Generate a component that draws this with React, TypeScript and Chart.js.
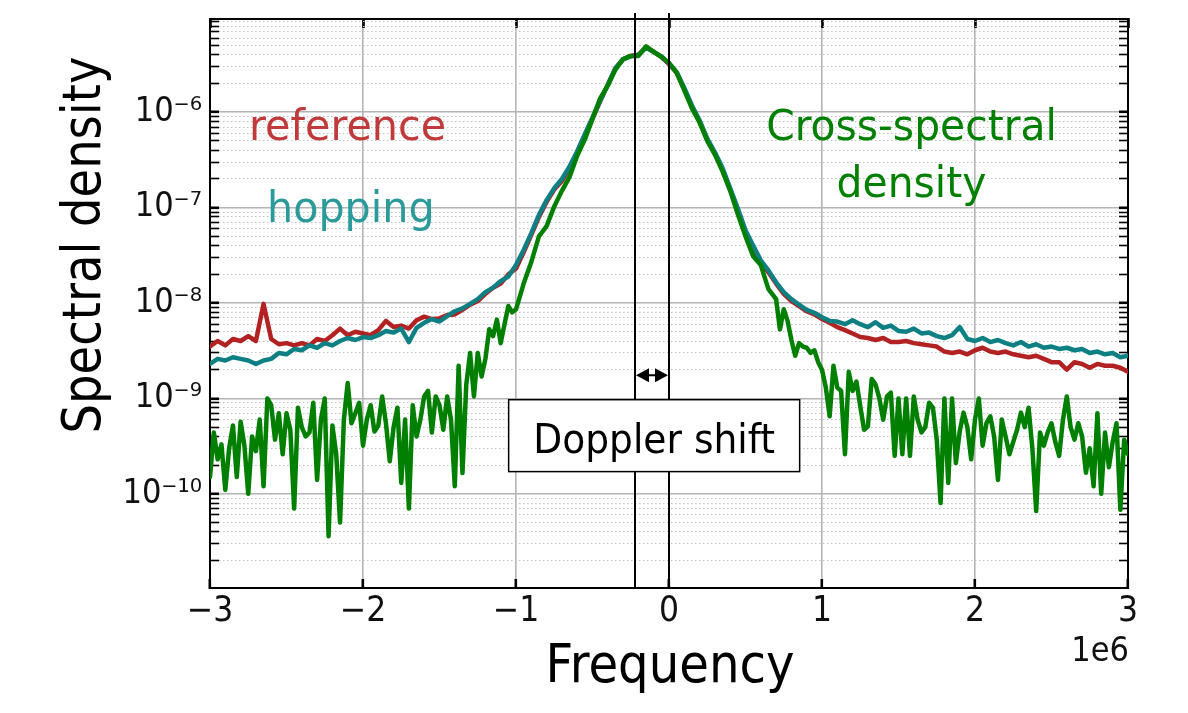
import React, { useEffect, useRef } from "react";
import { Chart, registerables } from "chart.js";

Chart.register(...registerables);

// ---------------- data (frequency in MHz, i.e. units of 1e6 Hz) ----------------
const FREQ_MHZ = [
  -3.0, -2.95, -2.9, -2.85, -2.8, -2.75, -2.7, -2.65, -2.6, -2.55,
  -2.5, -2.45, -2.4, -2.35, -2.3, -2.25, -2.2, -2.15, -2.1, -2.05,
  -2.0, -1.95, -1.9, -1.85, -1.8, -1.75, -1.7, -1.65, -1.6, -1.55,
  -1.5, -1.45, -1.4, -1.35, -1.3, -1.25, -1.2, -1.15, -1.1, -1.05,
  -1.0, -0.95, -0.9, -0.85, -0.8, -0.75, -0.7, -0.65, -0.6, -0.55,
  -0.5, -0.45, -0.4, -0.35, -0.3, -0.25, -0.2, -0.15, -0.1, -0.05,
  0.0, 0.05, 0.1, 0.15, 0.2, 0.25, 0.3, 0.35, 0.4, 0.45,
  0.5, 0.55, 0.6, 0.65, 0.7, 0.75, 0.8, 0.85, 0.9, 0.95,
  1.0, 1.05, 1.1, 1.15, 1.2, 1.25, 1.3, 1.35, 1.4, 1.45,
  1.5, 1.55, 1.6, 1.65, 1.7, 1.75, 1.8, 1.85, 1.9, 1.95,
  2.0, 2.05, 2.1, 2.15, 2.2, 2.25, 2.3, 2.35, 2.4, 2.45,
  2.5, 2.55, 2.6, 2.65, 2.7, 2.75, 2.8, 2.85, 2.9, 2.95,
  3.0,
];

const REFERENCE = [
  3.5e-9, 4.0e-9, 3.6e-9, 4.2e-9, 4.0e-9, 4.5e-9, 4.0e-9, 9.8e-9, 4.2e-9, 3.7e-9,
  3.8e-9, 3.6e-9, 3.8e-9, 3.6e-9, 4.2e-9, 4.0e-9, 4.6e-9, 5.4e-9, 4.6e-9, 5.0e-9,
  4.8e-9, 4.6e-9, 5.2e-9, 6.5e-9, 5.6e-9, 5.8e-9, 5.4e-9, 6.6e-9, 7.2e-9, 6.8e-9,
  6.9e-9, 7.5e-9, 7.6e-9, 8.5e-9, 9.6e-9, 1.05e-8, 1.25e-8, 1.45e-8, 1.6e-8, 2.0e-8,
  2.3e-8, 3.4e-8, 5.2e-8, 8.0e-8, 1.15e-7, 1.55e-7, 1.9e-7, 2.6e-7, 3.8e-7, 5.8e-7,
  8.6e-7, 1.3e-6, 1.95e-6, 2.9e-6, 3.6e-6, 3.9e-6, 4.0e-6, 4.8e-6, 4.3e-6, 3.8e-6,
  3.2e-6, 2.6e-6, 1.75e-6, 1.15e-6, 8.0e-7, 5.2e-7, 3.7e-7, 2.5e-7, 1.55e-7, 9.5e-8,
  5.6e-8, 3.8e-8, 2.7e-8, 2.1e-8, 1.6e-8, 1.25e-8, 1.05e-8, 9.3e-9, 8.2e-9, 7.6e-9,
  6.8e-9, 6.2e-9, 5.6e-9, 5.2e-9, 4.8e-9, 4.4e-9, 4.3e-9, 4.1e-9, 4.3e-9, 3.9e-9,
  3.9e-9, 4.0e-9, 3.8e-9, 3.7e-9, 3.6e-9, 3.5e-9, 3.1e-9, 3.0e-9, 3.1e-9, 2.9e-9,
  3.2e-9, 3.4e-9, 3.1e-9, 3.0e-9, 3.1e-9, 2.9e-9, 2.8e-9, 2.7e-9, 2.8e-9, 2.6e-9,
  2.4e-9, 2.4e-9, 2.0e-9, 2.4e-9, 2.3e-9, 2.1e-9, 2.3e-9, 2.2e-9, 2.2e-9, 2.1e-9,
  1.9e-9,
];

const HOPPING = [
  2.3e-9, 2.6e-9, 2.5e-9, 2.7e-9, 2.6e-9, 2.5e-9, 2.3e-9, 2.5e-9, 2.6e-9, 3.0e-9,
  2.9e-9, 3.3e-9, 3.2e-9, 3.6e-9, 3.4e-9, 3.8e-9, 3.6e-9, 4.0e-9, 4.3e-9, 4.1e-9,
  4.4e-9, 4.3e-9, 4.6e-9, 5.1e-9, 4.9e-9, 5.4e-9, 3.9e-9, 5.5e-9, 6.2e-9, 6.8e-9,
  6.4e-9, 7.3e-9, 8.2e-9, 8.8e-9, 9.8e-9, 1.1e-8, 1.3e-8, 1.45e-8, 1.7e-8, 1.9e-8,
  2.5e-8, 3.6e-8, 5.4e-8, 8.4e-8, 1.2e-7, 1.6e-7, 2.0e-7, 2.7e-7, 3.9e-7, 5.9e-7,
  8.8e-7, 1.32e-6, 1.95e-6, 2.9e-6, 3.6e-6, 3.85e-6, 4.0e-6, 4.75e-6, 4.3e-6, 3.85e-6,
  3.25e-6, 2.65e-6, 1.8e-6, 1.18e-6, 8.2e-7, 5.3e-7, 3.8e-7, 2.6e-7, 1.6e-7, 9.8e-8,
  5.8e-8, 4.0e-8, 2.8e-8, 2.2e-8, 1.65e-8, 1.3e-8, 1.1e-8, 9.6e-9, 8.5e-9, 7.9e-9,
  7.1e-9, 6.5e-9, 6.4e-9, 6.0e-9, 6.6e-9, 6.0e-9, 5.6e-9, 6.3e-9, 5.5e-9, 5.8e-9,
  5.1e-9, 5.0e-9, 5.4e-9, 4.8e-9, 4.9e-9, 4.5e-9, 4.3e-9, 4.6e-9, 5.6e-9, 4.2e-9,
  4.0e-9, 4.3e-9, 3.9e-9, 4.1e-9, 3.8e-9, 3.6e-9, 3.9e-9, 3.5e-9, 3.7e-9, 3.4e-9,
  3.5e-9, 3.3e-9, 3.4e-9, 3.2e-9, 3.3e-9, 3.0e-9, 3.1e-9, 2.9e-9, 3.0e-9, 2.7e-9,
  2.8e-9,
];

// the cross-spectral density is sampled more finely in its noisy tails
const CROSS_FREQ_MHZ = [
  -3.0, -2.975, -2.95, -2.925, -2.9, -2.875, -2.85, -2.825, -2.8, -2.775,
  -2.75, -2.725, -2.7, -2.675, -2.65, -2.625, -2.6, -2.575, -2.55, -2.525,
  -2.5, -2.475, -2.45, -2.425, -2.4, -2.375, -2.35, -2.325, -2.3, -2.275,
  -2.25, -2.225, -2.2, -2.175, -2.15, -2.125, -2.1, -2.075, -2.05, -2.025,
  -2.0, -1.975, -1.95, -1.925, -1.9, -1.875, -1.85, -1.825, -1.8, -1.775,
  -1.75, -1.725, -1.7, -1.675, -1.65, -1.625, -1.6, -1.575, -1.55, -1.525,
  -1.5, -1.475, -1.45, -1.425, -1.4, -1.375, -1.35, -1.325, -1.3, -1.275,
  -1.25, -1.225, -1.2, -1.175, -1.15, -1.125, -1.1, -1.075, -1.05, -1.025,
  -1.0,
  -0.95, -0.9, -0.85, -0.8, -0.75, -0.7, -0.65, -0.6, -0.55, -0.5,
  -0.45, -0.4, -0.35, -0.3, -0.25, -0.2, -0.15, -0.1, -0.05, 0.0,
  0.05, 0.1, 0.15, 0.2, 0.25, 0.3, 0.35, 0.4, 0.45, 0.5,
  0.55, 0.6, 0.65, 0.7,
  0.725, 0.75, 0.775, 0.8, 0.825, 0.85, 0.875, 0.9, 0.925, 0.95,
  0.975, 1.0, 1.025, 1.05, 1.075, 1.1, 1.125, 1.15, 1.175, 1.2,
  1.225, 1.25, 1.275, 1.3, 1.325, 1.35, 1.375, 1.4, 1.425, 1.45,
  1.475, 1.5, 1.525, 1.55, 1.575, 1.6, 1.625, 1.65, 1.675, 1.7,
  1.725, 1.75, 1.775, 1.8, 1.825, 1.85, 1.875, 1.9, 1.925, 1.95,
  1.975, 2.0, 2.025, 2.05, 2.075, 2.1, 2.125, 2.15, 2.175, 2.2,
  2.225, 2.25, 2.275, 2.3, 2.325, 2.35, 2.375, 2.4, 2.425, 2.45,
  2.475, 2.5, 2.525, 2.55, 2.575, 2.6, 2.625, 2.65, 2.675, 2.7,
  2.725, 2.75, 2.775, 2.8, 2.825, 2.85, 2.875, 2.9, 2.925, 2.95,
  2.975, 3.0,
];

const CROSS_SPECTRAL = [
  1.5e-10, 4.4e-10, 2.3e-10, 3.3e-10, 1.1e-10, 3.0e-10, 5.2e-10, 1.5e-10, 5.7e-10, 3.2e-10,
  1.0e-10, 4.0e-10, 2.8e-10, 6.0e-10, 1.2e-10, 1.0e-9, 8.5e-10, 3.7e-10, 7.0e-10, 2.6e-10,
  7.0e-10, 4.7e-10, 7.0e-11, 8.0e-10, 5.0e-10, 4.0e-10, 4.4e-10, 9.0e-10, 1.4e-10, 6.0e-10,
  1.0e-9, 3.6e-11, 5.2e-10, 2.6e-10, 5.0e-11, 6.0e-10, 1.45e-9, 5.5e-10, 7.0e-10, 9.0e-10,
  3.2e-10, 6.0e-10, 8.5e-10, 4.5e-10, 5.2e-10, 1.05e-9, 5.5e-10, 2.2e-10, 5.0e-10, 8.0e-10,
  1.3e-10, 6.0e-10, 7.0e-11, 8.5e-10, 4.0e-10, 6.0e-10, 1.05e-9, 1.2e-9, 4.4e-10, 1.05e-9,
  8.5e-10, 4.7e-10, 1.05e-9, 6.0e-10, 1.2e-10, 2.2e-9, 1.65e-10, 1.4e-9, 3.0e-9, 1.05e-9,
  3.0e-9, 1.7e-9, 2.6e-9, 5.3e-9, 4.5e-9, 6.7e-9, 3.8e-9, 6.0e-9, 9.3e-9, 8.0e-9,
  8.6e-9,
  1.6e-8, 2.7e-8, 5.0e-8, 6.4e-8, 1.03e-7, 1.5e-7, 2.1e-7, 3.5e-7, 5.2e-7, 8.5e-7,
  1.4e-6, 1.9e-6, 2.8e-6, 3.6e-6, 3.9e-6, 3.9e-6, 4.9e-6, 4.3e-6, 3.8e-6, 3.3e-6,
  2.6e-6, 1.7e-6, 1.1e-6, 7.8e-7, 5.0e-7, 3.6e-7, 2.4e-7, 1.5e-7, 8.5e-8, 5.0e-8,
  3.1e-8, 2.5e-8, 1.4e-8, 1.1e-8,
  5.3e-9, 8.6e-9, 6.5e-9, 4.1e-9, 2.8e-9, 3.8e-9, 3.5e-9, 3.4e-9, 3.0e-9, 3.2e-9,
  2.4e-9, 2.0e-9, 1.3e-9, 6.5e-10, 2.2e-9, 1.3e-9, 1.2e-9, 2.6e-10, 1.9e-9, 1.2e-9,
  1.5e-9, 8.3e-10, 4.7e-10, 5.1e-10, 1.6e-9, 1.4e-9, 1.0e-9, 6.0e-10, 1.05e-9, 1.15e-9,
  2.5e-10, 1.0e-9, 2.6e-10, 1.0e-9, 2.5e-10, 1.05e-9, 6.0e-10, 4.4e-10, 5.0e-10, 9.0e-10,
  8.0e-10, 3.7e-10, 8.0e-11, 1.0e-9, 1.3e-10, 1.0e-9, 2.1e-10, 4.5e-10, 7.1e-10, 5.0e-10,
  2.3e-10, 6.0e-10, 1.0e-9, 3.2e-10, 5.5e-10, 6.5e-10, 4.0e-10, 1.4e-10, 6.0e-10, 4.0e-10,
  2.6e-10, 3.5e-10, 4.7e-10, 7.1e-10, 5.0e-10, 8.0e-10, 3.0e-10, 6.6e-11, 4.4e-10, 3.2e-10,
  4.4e-10, 5.5e-10, 3.5e-10, 2.5e-10, 6.0e-10, 1.05e-9, 5.0e-10, 3.7e-10, 5.5e-10, 4.0e-10,
  1.66e-10, 3.0e-10, 1.2e-10, 7.0e-10, 1.0e-10, 4.4e-10, 1.9e-10, 3.5e-10, 5.5e-10, 6.8e-11,
  3.7e-10, 2.6e-10,
];

const X_TICKS_MHZ = [-3, -2, -1, 0, 1, 2, 3];
const Y_DECADES = [-11, -10, -9, -8, -7, -6, -5];
const Y_LABELLED_DECADES = [-10, -9, -8, -7, -6];
const Y_MIN = 1.03e-11;
const Y_MAX = 9.5e-6;
const DOPPLER_LINES_MHZ = [-0.22, 0];

// ---------------- styles ----------------
const RED = "#b22222";
const TEAL = "#0e8083";
const GREEN = "#007f00";
const TICK_FAMILY = '"DejaVu Sans Condensed", "DejaVu Sans", sans-serif';
const TEXT_FAMILY = '"DejaVu Sans", sans-serif';

const SUP: Record<string, string> = {
  "-": "\u207B", "0": "\u2070", "1": "\u00B9", "2": "\u00B2", "3": "\u00B3",
  "4": "\u2074", "5": "\u2075", "6": "\u2076", "7": "\u2077", "8": "\u2078", "9": "\u2079",
};
const sup = (n: number) => String(n).split("").map((c) => SUP[c] || c).join("");

const isDecade = (v: number) => {
  const l = Math.log10(v);
  return Math.abs(l - Math.round(l)) < 1e-6;
};

const buildLogTicks = (scale: any) => {
  const ticks: any[] = [];
  for (const d of Y_DECADES) {
    for (let m = 1; m <= 9; m++) {
      const v = m * Math.pow(10, d);
      if (v >= Y_MIN && v <= Y_MAX) ticks.push({ value: v, major: m === 1 });
    }
  }
  scale.ticks = ticks;
};

const buildXTicks = (scale: any) => {
  scale.ticks = X_TICKS_MHZ.map((v) => ({ value: v * 1e6 }));
};

const noPad = (s: any) => {
  s.paddingTop = 0;
  s.paddingBottom = 0;
  s.paddingLeft = 0;
  s.paddingRight = 0;
};

function drawText(
  ctx: CanvasRenderingContext2D,
  text: string,
  x: number,
  y: number,
  size: number,
  color: string,
  align: CanvasTextAlign,
  sx = 1,
  rotate = 0
) {
  ctx.save();
  ctx.translate(x, y);
  if (rotate) ctx.rotate(rotate);
  ctx.scale(sx, 1);
  ctx.font = `${size}px ${TEXT_FAMILY}`;
  ctx.fillStyle = color;
  ctx.textAlign = align;
  ctx.textBaseline = "alphabetic";
  ctx.fillText(text, 0, 0);
  ctx.restore();
}

const annotations = {
  id: "annotations",
  afterDatasetsDraw(chart: any) {
    const { ctx, chartArea, scales } = chart;
    const xs = scales.x;
    const ys = scales.y;
    const lx = DOPPLER_LINES_MHZ.map((f) => Math.round(xs.getPixelForValue(f * 1e6)));
    ctx.save();
    ctx.strokeStyle = "#000";
    ctx.lineWidth = 2;
    for (const px of lx) {
      ctx.beginPath();
      ctx.moveTo(px, chartArea.top - 6);
      ctx.lineTo(px, chartArea.bottom);
      ctx.stroke();
    }
    const ay = ys.getPixelForValue(1.75e-9);
    const a0 = Math.min(lx[0], lx[1]);
    const a1 = Math.max(lx[0], lx[1]);
    ctx.beginPath();
    ctx.moveTo(a0 + 6, ay);
    ctx.lineTo(a1 - 6, ay);
    ctx.stroke();
    ctx.fillStyle = "#000";
    ctx.beginPath();
    ctx.moveTo(a0 + 1, ay);
    ctx.lineTo(a0 + 14, ay - 7);
    ctx.lineTo(a0 + 14, ay + 7);
    ctx.closePath();
    ctx.fill();
    ctx.beginPath();
    ctx.moveTo(a1 - 1, ay);
    ctx.lineTo(a1 - 14, ay - 7);
    ctx.lineTo(a1 - 14, ay + 7);
    ctx.closePath();
    ctx.fill();
    const bx0 = xs.getPixelForValue(-1.048e6);
    const bx1 = xs.getPixelForValue(0.854e6);
    const by0 = ys.getPixelForValue(9.7e-10);
    const by1 = ys.getPixelForValue(1.71e-10);
    ctx.fillStyle = "#fff";
    ctx.fillRect(bx0, by0, bx1 - bx0, by1 - by0);
    ctx.strokeStyle = "#000";
    ctx.lineWidth = 1.5;
    ctx.strokeRect(bx0, by0, bx1 - bx0, by1 - by0);
    ctx.restore();
    drawText(ctx, "Doppler shift", (bx0 + bx1) / 2, by0 + 53, 40, "#000", "center", 0.94);
  },
  afterDraw(chart: any) {
    const { ctx } = chart;
    drawText(ctx, "reference", 249, 140, 43, "#c0393b", "left", 0.96);
    drawText(ctx, "hopping", 267, 222, 43, "#2a9a9a", "left", 0.96);
    drawText(ctx, "Cross-spectral", 911.5, 140, 43, "#008000", "center", 0.95);
    drawText(ctx, "density", 911.5, 197, 43, "#008000", "center", 0.95);
    drawText(ctx, "Spectral density", 100, 245, 54, "#000", "center", 0.86, -Math.PI / 2);
    drawText(ctx, "Frequency", 670, 682, 53, "#000", "center", 0.91);
    drawText(ctx, "1e6", 1129, 661, 34, "#111", "right", 0.9);
  },
};

const gridY = {
  color: (c: any) => (c.tick && isDecade(c.tick.value) ? "#b4b4b4" : "#c2c2c2"),
  lineWidth: (c: any) => (c.tick && isDecade(c.tick.value) ? 1.6 : 1),
  drawTicks: true,
  tickLength: -9,
  tickColor: "#000",
  tickWidth: (c: any) => (c.tick && isDecade(c.tick.value) ? 2.6 : 1.6),
};

export default function App() {
  const ref = useRef<HTMLCanvasElement>(null);

  useEffect(() => {
    const canvas = ref.current;
    if (!canvas) return;
    const mk = (fs: number[], vals: number[]) => fs.map((f, i) => ({ x: f * 1e6, y: vals[i] }));
    const lineStyle = {
      borderWidth: 4.5,
      pointRadius: 0,
      tension: 0,
      fill: false,
      borderJoinStyle: "round" as const,
      borderCapStyle: "round" as const,
    };
    const chart = new Chart(canvas, {
      type: "line",
      data: {
        datasets: [
          { label: "reference", data: mk(FREQ_MHZ, REFERENCE), borderColor: RED, order: 3, ...lineStyle },
          { label: "hopping", data: mk(FREQ_MHZ, HOPPING), borderColor: TEAL, order: 2, ...lineStyle },
          {
            label: "Cross-spectral density",
            data: mk(CROSS_FREQ_MHZ, CROSS_SPECTRAL),
            borderColor: GREEN,
            order: 1,
            ...lineStyle,
          },
        ],
      },
      options: {
        responsive: false,
        animation: false,
        devicePixelRatio: 1,
        events: [],
        layout: { padding: 0, autoPadding: false },
        plugins: {
          legend: { display: false },
          tooltip: { enabled: false },
          title: { display: false },
        },
        scales: {
          x: {
            type: "linear",
            position: "bottom",
            min: -3e6,
            max: 3e6,
            afterBuildTicks: buildXTicks,
            afterFit: (s: any) => {
              noPad(s);
              s.height = 125;
            },
            ticks: {
              autoSkip: false,
              maxRotation: 0,
              padding: 12,
              color: "#111",
              font: { family: TICK_FAMILY, size: 35 },
              callback: (v: any) => {
                const m = Math.round(Number(v) / 1e6);
                return m < 0 ? "\u2212" + Math.abs(m) : String(m);
              },
            },
            grid: {
              color: "#b4b4b4",
              lineWidth: 1.6,
              drawTicks: true,
              tickLength: -9,
              tickColor: "#000",
              tickWidth: 2.6,
            },
            border: { display: true, color: "#000", width: 2 },
          },
          xTop: {
            type: "linear",
            position: "top",
            min: -3e6,
            max: 3e6,
            afterBuildTicks: buildXTicks,
            afterFit: (s: any) => {
              noPad(s);
              s.height = 19;
            },
            ticks: { display: false },
            grid: {
              drawOnChartArea: false,
              drawTicks: true,
              tickLength: -9,
              tickColor: "#000",
              tickWidth: 2.6,
            },
            border: { display: true, color: "#000", width: 2 },
          },
          y: {
            type: "logarithmic",
            position: "left",
            min: Y_MIN,
            max: Y_MAX,
            afterBuildTicks: buildLogTicks,
            afterFit: (s: any) => {
              noPad(s);
              s.width = 210;
            },
            ticks: {
              autoSkip: false,
              padding: 17,
              color: "#111",
              font: { family: TICK_FAMILY, size: 34 },
              callback: (v: any) => {
                const val = Number(v);
                if (!isDecade(val)) return "";
                const e = Math.round(Math.log10(val));
                return Y_LABELLED_DECADES.includes(e) ? "10" + sup(e) : "";
              },
            },
            grid: gridY,
            border: {
              display: true,
              color: "#000",
              width: 2,
              dash: (c: any) => (c.tick && !isDecade(c.tick.value) ? [1.5, 2.5] : []),
            },
          },
          yRight: {
            type: "logarithmic",
            position: "right",
            min: Y_MIN,
            max: Y_MAX,
            afterBuildTicks: buildLogTicks,
            afterFit: (s: any) => {
              noPad(s);
              s.width = 60;
            },
            ticks: { display: false },
            grid: { ...gridY, drawOnChartArea: false },
            border: { display: true, color: "#000", width: 2 },
          },
        },
      } as any,
      plugins: [annotations],
    });
    return () => chart.destroy();
  }, []);

  return (
    <div style={{ position: "absolute", left: 0, top: 0, width: 1188, height: 713, background: "#fff" }}>
      <canvas ref={ref} width={1188} height={713} style={{ display: "block", width: 1188, height: 713 }} />
    </div>
  );
}
